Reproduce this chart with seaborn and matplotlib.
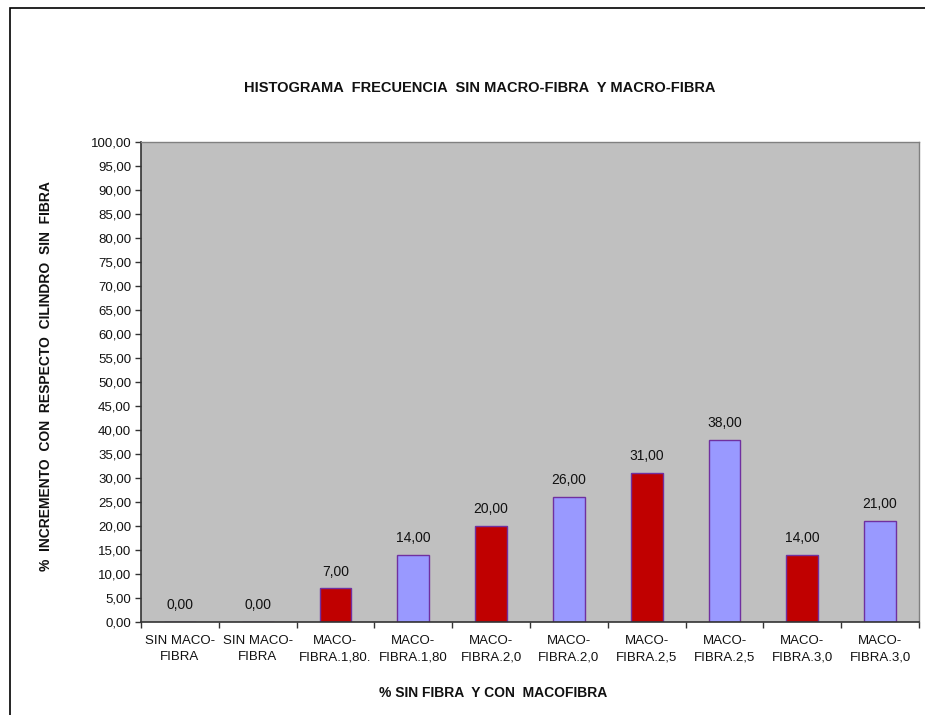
import pandas as pd
import matplotlib.pyplot as plt
import seaborn as sns
from matplotlib.patches import Rectangle

# datos
etiquetas = ['SIN MACO-\nFIBRA', 'SIN MACO-\nFIBRA', 'MACO-\nFIBRA.1,80.', 'MACO-\nFIBRA.1,80',
             'MACO-\nFIBRA.2,0', 'MACO-\nFIBRA.2,0', 'MACO-\nFIBRA.2,5', 'MACO-\nFIBRA.2,5',
             'MACO-\nFIBRA.3,0', 'MACO-\nFIBRA.3,0']
valores = [0.0, 0.0, 7.0, 14.0, 20.0, 26.0, 31.0, 38.0, 14.0, 21.0]
colores = ['#C00000', '#9999FF'] * 5

df = pd.DataFrame({'pos': list(range(len(valores))), 'valor': valores})

sns.set_theme(style="white")
plt.rcParams['font.family'] = ['Liberation Sans', 'DejaVu Sans']

fig = plt.figure(figsize=(9.25, 7.15), dpi=100)
ax = fig.add_axes([141 / 925, 1 - 622 / 715, (919 - 141) / 925, (622 - 142) / 715])

sns.barplot(data=df, x='pos', y='valor', hue='pos', palette=colores, legend=False,
            width=0.41, edgecolor='#7030A0', linewidth=1.0, saturation=1, ax=ax)

for c in ax.containers:
    ax.bar_label(c, labels=[f"{v:.2f}".replace('.', ',') for v in c.datavalues],
                 padding=7, fontsize=10, color='#111111')

ax.set_facecolor('#C0C0C0')
ax.set_ylim(0, 100)
ax.set_xlim(-0.5, len(valores) - 0.5)
yt = list(range(0, 101, 5))
ax.set_yticks(yt)
ax.set_yticklabels([f"{v:.2f}".replace('.', ',') for v in yt], fontsize=9.5, color='#111111')
ax.set_xticks([i - 0.5 for i in range(len(valores) + 1)], minor=False)
ax.set_xticklabels([])
ax.set_xticks(range(len(valores)), minor=True)
ax.set_xticklabels(etiquetas, minor=True, fontsize=9.5, color='#111111', linespacing=1.5)
ax.tick_params(axis='x', which='minor', length=0, pad=9)
ax.tick_params(axis='both', which='major', direction='out', length=4, width=1, color='#333333',
               left=True, bottom=True, pad=3)

for s in ['left', 'bottom']:
    ax.spines[s].set_color('#333333')
    ax.spines[s].set_linewidth(1.2)
for s in ['top', 'right']:
    ax.spines[s].set_color('#808080')
    ax.spines[s].set_linewidth(1.0)

ax.set_xlabel('')
ax.set_ylabel('')
fig.text(480 / 925, 1 - 88 / 715, 'HISTOGRAMA  FRECUENCIA  SIN MACRO-FIBRA  Y MACRO-FIBRA',
         ha='center', va='center', fontsize=10.5, fontweight='bold', color='#111111')
fig.text(493 / 925, 1 - 693 / 715, '% SIN FIBRA  Y CON  MACOFIBRA',
         ha='center', va='center', fontsize=10, fontweight='bold', color='#111111')
fig.text(46 / 925, 1 - 376 / 715, '%  INCREMENTO  CON  RESPECTO  CILINDRO  SIN  FIBRA',
         ha='center', va='center', rotation=90, fontsize=10, fontweight='bold', color='#111111')

# marco del gráfico
fig.patches.append(Rectangle((10 / 925, -0.01), 1.0, 1 - 8 / 715 + 0.01, transform=fig.transFigure,
                             fill=False, edgecolor='black', linewidth=1.2))

fig.savefig('out.png', dpi=100, facecolor='white')
